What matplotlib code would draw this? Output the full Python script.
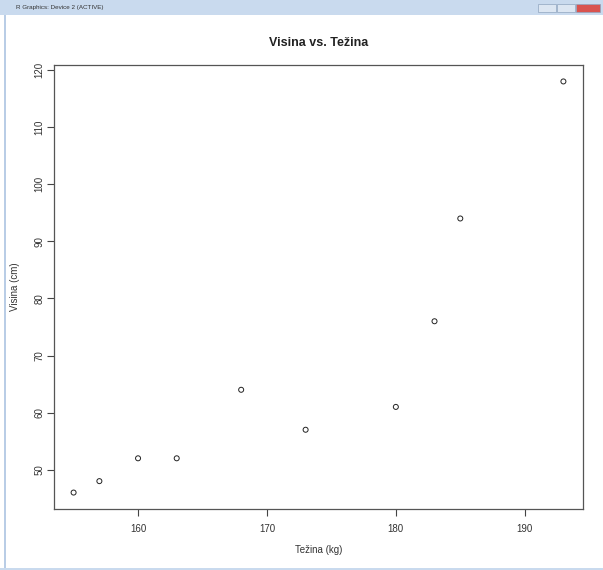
import numpy as np
import matplotlib
matplotlib.use("Agg")
import matplotlib.pyplot as plt
from matplotlib.patches import Rectangle

plt.rcParams['font.family'] = ['Liberation Sans', 'DejaVu Sans']

# data
tezina = [155, 157, 160, 163, 168, 173, 180, 183, 185, 193]
visina = [46, 48, 52, 52, 64, 57, 61, 76, 94, 118]
x_ticks = [160, 170, 180, 190]
y_ticks = [50, 60, 70, 80, 90, 100, 110, 120]

W, H = 603, 570
fig = plt.figure(figsize=(W / 100, H / 100), dpi=100)
fig.patch.set_facecolor('white')

# window chrome (R Graphics Device title bar and borders)
fig.patches.append(Rectangle((0, 1 - 15 / H), 1, 15 / H, transform=fig.transFigure,
                             facecolor='#c9daee', edgecolor='none'))
fig.patches.append(Rectangle((4 / W, 0), 2 / W, 1 - 15 / H, transform=fig.transFigure,
                             facecolor='#b9cde6', edgecolor='none'))
fig.patches.append(Rectangle((0, 0), 1, 2 / H, transform=fig.transFigure,
                             facecolor='#c9daee', edgecolor='none'))
fig.text(16 / W, 1 - 8 / H, 'R Graphics: Device 2 (ACTIVE)', fontsize=4.5,
         color='#333333', va='center', ha='left')
# window buttons
for x0, w, c in [(538, 18, '#dce6f2'), (557, 18, '#dce6f2'), (576, 24, '#d9534f')]:
    fig.patches.append(Rectangle((x0 / W, 1 - 12 / H), w / W, 8 / H,
                                 transform=fig.transFigure, facecolor=c,
                                 edgecolor='#8fa4bf', linewidth=0.5))

# plot region, matching R default 4% axis expansion
left, right, top, bottom = 54, 583, 65, 509
ax = fig.add_axes([left / W, 1 - bottom / H, (right - left) / W, (bottom - top) / H])
ax.scatter(tezina, visina, s=13, facecolors='none', edgecolors='#222222', linewidths=0.7)

xr = max(tezina) - min(tezina)
yr = max(visina) - min(visina)
ax.set_xlim(min(tezina) - 0.04 * xr, max(tezina) + 0.04 * xr)
ax.set_ylim(min(visina) - 0.04 * yr, max(visina) + 0.04 * yr)
ax.set_xticks(x_ticks)
ax.set_yticks(y_ticks)
ax.set_yticklabels([str(v) for v in y_ticks], rotation=90, va='center')
ax.tick_params(direction='out', length=5, width=0.8, colors='#444444',
               labelsize=7, labelcolor='#333333')
ax.tick_params(axis='x', pad=6)
ax.tick_params(axis='y', pad=2)
for s in ax.spines.values():
    s.set_color('#555555')
    s.set_linewidth(0.9)

ax.set_xlabel('Težina (kg)', fontsize=7, color='#333333')
ax.set_ylabel('Visina (cm)', fontsize=7, color='#333333')
ax.xaxis.set_label_coords(0.5, -(550 - bottom) / (bottom - top), transform=ax.transAxes)
ax.yaxis.set_label_coords(-(left - 15) / (right - left), 0.5, transform=ax.transAxes)
ax.xaxis.label.set_va('center')
ax.yaxis.label.set_va('center')
ax.set_title('Visina vs. Težina', fontsize=9, fontweight='bold', color='#222222', pad=14)

fig.savefig('out.png', dpi=100)
